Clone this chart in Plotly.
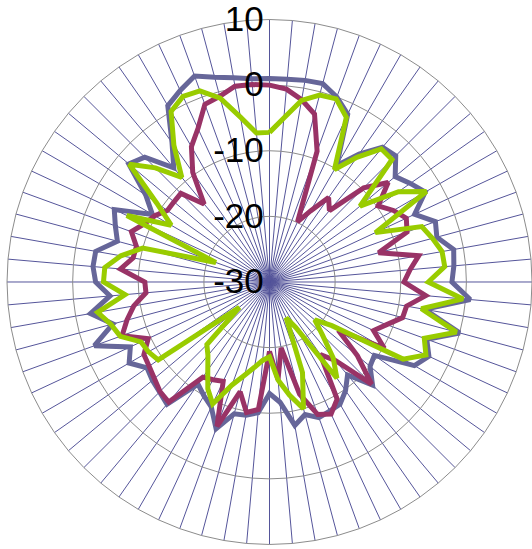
import plotly.graph_objects as go

# 72 spokes, 5 degrees apart, clockwise from the top
categories = [str(i) for i in range(1, 73)]

series_names = ["Series 1", "Series 2", "Series 3"]

blue = [1.0, 1.0, 1.2, 1.3, 0.0, -1.8, -9.5, -6.2, -3.2, -2.8,
        -5.0, -3.8, -2.6, -5.6, -3.1, -3.6, -1.5, -1.8, -2.2, 0.7,
        -6.0, 0.0, -4.5, -3.2, -4.5, -10.5, -10.0, -7.8, -11.5, -9.8,
        -8.5, -8.3, -8.0, -9.1, -7.8, -11.6, -13.0, -10.0, -9.4, -9.2,
        -6.2, -9.0, -10.0, -11.0, -5.7, -6.3, -6.7, -7.2, -5.3, -6.6,
        -1.6, -5.3, -2.3, -5.6, -3.5, -3.0, -3.1, -6.0, -5.0, -3.9,
        -9.4, -7.0, -2.0, -3.1, -7.3, -4.1, 1.0, 2.2, 3.4, 2.3,
        1.6, 1.1]

maroon = [0.0, -0.5, -1.8, -3.5, -8.8, -19.9, -17.5, -14.3, -15.8, -9.7,
          -6.4, -9.8, -8.2, -7.0, -7.7, -12.8, -6.9, -8.5, -9.5, -6.1,
          -8.8, -9.0, -11.0, -12.5, -9.8, -17.2, -12.5, -8.0, -14.4, -16.5,
          -9.4, -7.8, -8.5, -12.3, -19.8, -15.1, -19.4, -10.5, -9.8, -12.7,
          -6.6, -13.3, -12.8, -12.3, -6.1, -6.4, -7.1, -7.6, -7.9, -9.6,
          -6.1, -7.5, -9.0, -11.1, -11.0, -7.2, -8.9, -9.0, -7.6, -9.0,
          -9.8, -11.0, -11.0, -10.9, -14.5, -9.6, -6.2, -4.2, -1.2, -0.7,
          0.3, 0.2]

green = [-7.2, -4.9, -1.9, -0.5, -0.3, -2.3, -10.2, -6.8, -3.5, -3.6,
         -12.0, -6.0, -2.4, -12.2, -5.3, -4.3, -3.3, -3.2, -5.8, -0.4,
         -6.5, -0.5, -4.9, -3.7, -6.5, -18.4, -21.0, -18.6, -14.9, -12.1,
         -22.0, -24.0, -15.3, -10.0, -12.5, -15.0, -18.6, -18.0, -16.8, -15.3,
         -13.3, -9.5, -11.2, -13.6, -15.4, -16.5, -24.0, -9.3, -8.7, -8.4,
         -5.8, -5.0, -3.4, -7.9, -4.7, -4.8, -7.0, -10.0, -21.3, -6.0,
         -12.7, -9.0, -2.1, -5.4, -9.2, -4.6, 0.0, 1.2, 1.0, -1.0,
         -4.5, -7.2]

radial_ticks = [-30, -20, -10, 0, 10]

colors = ["#666699", "#993366", "#99CC00"]

fig = go.Figure()
for name, vals, col in zip(series_names, [blue, maroon, green], colors):
    fig.add_trace(go.Scatterpolar(
        r=vals + vals[:1],
        theta=categories + categories[:1],
        mode="lines",
        name=name,
        line=dict(color=col, width=5),
        showlegend=False,
        hoverinfo="skip",
    ))

fig.update_layout(
    width=532, height=549,
    margin=dict(l=0, r=0, t=0, b=0),
    paper_bgcolor="white",
    plot_bgcolor="white",
    font=dict(family="Liberation Sans, Arial, sans-serif", color="black"),
    polar=dict(
        domain=dict(x=[0.0132, 1.0], y=[0.0073, 0.9654]),
        bgcolor="white",
        gridshape="linear",
        hole=0,
        radialaxis=dict(
            range=[-30, 10],
            tickvals=radial_ticks,
            ticktext=[str(v) for v in radial_ticks],
            angle=90,
            tickangle=90,
            side="counterclockwise",
            showline=False,
            ticks="",
            tickfont=dict(size=35, color="black"),
            gridcolor="#8c8c8c",
            gridwidth=1,
        ),
        angularaxis=dict(
            type="category",
            categoryarray=categories,
            direction="clockwise",
            rotation=90,
            showticklabels=False,
            ticks="",
            showline=True,
            linecolor="#8c8c8c",
            linewidth=1,
            gridcolor="#55559a",
            gridwidth=1,
        ),
    ),
)

fig.write_html(
    "out.html",
    config={"displayModeBar": False},
    post_script="document.body.style.margin='0px';document.body.style.overflow='hidden';",
)
